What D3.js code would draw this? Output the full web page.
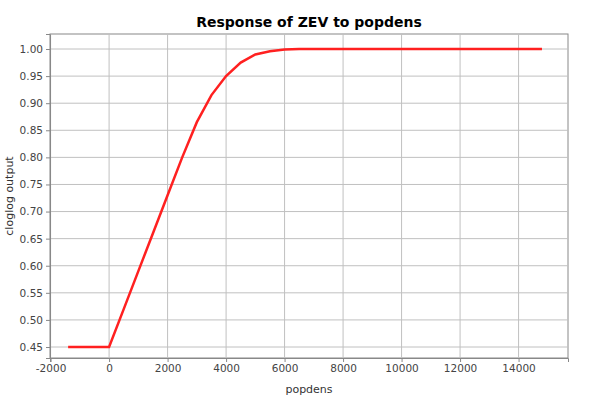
<!DOCTYPE html>
<html><head><meta charset="utf-8">
<script src="https://cdn.jsdelivr.net/npm/d3@7"></script>
<style>body{margin:0;background:#fff;font-family:"DejaVu Sans",sans-serif}</style>
</head><body><svg id="chart" width="600" height="400"></svg>
<script>
const popdens = [-1400, 0, 500, 1000, 1500, 2000, 2500, 3000, 3500, 4000, 4500, 5000, 5500, 6000, 6500, 14800];
const output = [0.45, 0.45, 0.52, 0.59, 0.66, 0.73, 0.80, 0.865, 0.915, 0.95, 0.975, 0.99, 0.996, 0.999, 1.0, 1.0];
const xTicks = d3.range(-2000, 14001, 2000);
const yTicks = d3.range(0.45, 1.0001, 0.05);

const m = {left: 50, right: 32, top: 34, bottom: 42};
const width = 600, height = 400;
const svg = d3.select("#chart");

const x = d3.scaleLinear().domain([-2020, 15690]).range([m.left, width - m.right]);
const y = d3.scaleLinear().domain([0.4297, 1.0277]).range([height - m.bottom, m.top]);

const g = svg.append("g");
g.append("rect").attr("x", m.left).attr("y", m.top)
  .attr("width", width - m.left - m.right).attr("height", height - m.top - m.bottom)
  .attr("fill", "#fff").attr("stroke", "#888");

g.selectAll(".gx").data(xTicks).enter().append("line")
  .attr("x1", d => x(d)).attr("x2", d => x(d))
  .attr("y1", m.top).attr("y2", height - m.bottom)
  .attr("stroke", "#c0c0c0");
g.selectAll(".gy").data(yTicks).enter().append("line")
  .attr("y1", d => y(d)).attr("y2", d => y(d))
  .attr("x1", m.left).attr("x2", width - m.right)
  .attr("stroke", "#c0c0c0");

const xAxis = svg.append("g").attr("transform", `translate(0,${height - m.bottom})`)
  .call(d3.axisBottom(x).tickValues(xTicks).tickSize(4).tickFormat(d => String(d)));
const yAxis = svg.append("g").attr("transform", `translate(${m.left},0)`)
  .call(d3.axisLeft(y).tickValues(yTicks).tickSize(4).tickFormat(d3.format(".2f")));
[xAxis, yAxis].forEach(a => {
  a.selectAll("text").attr("font-size", 10.5).attr("fill", "#444").attr("font-family", "DejaVu Sans");
  a.selectAll("line").attr("stroke", "#888");
  a.select(".domain").attr("stroke", "#888");
});

svg.append("path").datum(popdens.map((d, i) => [d, output[i]]))
  .attr("d", d3.line().x(d => x(d[0])).y(d => y(d[1])))
  .attr("fill", "none").attr("stroke", "#ff2020").attr("stroke-width", 2.5);

svg.append("text").attr("x", (m.left + width - m.right) / 2).attr("y", 27)
  .attr("text-anchor", "middle").attr("font-weight", "bold").attr("font-size", 14)
  .text("Response of ZEV to popdens");
svg.append("text").attr("x", (m.left + width - m.right) / 2).attr("y", 393)
  .attr("text-anchor", "middle").attr("font-size", 11).attr("fill", "#333").text("popdens");
svg.append("text").attr("transform", `translate(13,${(m.top + height - m.bottom) / 2}) rotate(-90)`)
  .attr("text-anchor", "middle").attr("font-size", 11).attr("fill", "#333").text("cloglog output");
</script></body></html>
